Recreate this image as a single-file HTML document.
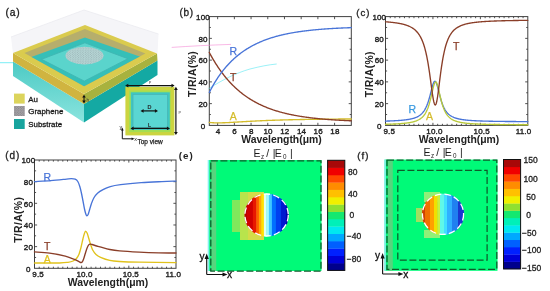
<!DOCTYPE html>
<html><head><meta charset="utf-8"><style>
html,body{margin:0;padding:0;background:#fff;width:550px;height:291px;overflow:hidden;}
svg{display:block;}
text{font-family:"Liberation Sans", sans-serif;}
svg{will-change:transform;}
</style></head><body>
<svg width="550" height="291" viewBox="0 0 550 291" font-family='"Liberation Sans", sans-serif'>
<defs>
<pattern id="hexpat" width="2.6" height="2.2" patternUnits="userSpaceOnUse"><circle cx="0.65" cy="0.55" r="0.5" fill="#90a8aa"/><circle cx="1.95" cy="1.65" r="0.5" fill="#90a8aa"/></pattern>
<pattern id="hexpat2" width="2.6" height="2.4" patternUnits="userSpaceOnUse"><circle cx="0.65" cy="0.6" r="0.6" fill="#7a7a7e"/><circle cx="1.95" cy="1.8" r="0.6" fill="#7a7a7e"/></pattern>
</defs>
<rect width="550" height="291" fill="#fff"/>
<path d="M11.00,37.00 L84.00,10.00 L158.50,34.00 L157.50,54.00 L85.00,26.00 L13.00,54.00 Z" fill="#f5f5f8"/>
<path d="M11,37 L84,10 L158.5,34" fill="none" stroke="#ebebf0" stroke-width="0.8"/>
<linearGradient id="subL" x1="0" y1="0" x2="0" y2="1"><stop offset="0" stop-color="#4ccac4"/><stop offset="1" stop-color="#8ae4de"/></linearGradient>
<path d="M13.00,61.50 L84.00,104.00 L84.00,122.50 L13.00,76.00 Z" fill="url(#subL)"/>
<path d="M84.00,104.00 L157.50,60.50 L157.50,75.00 L84.00,122.50 Z" fill="#14a9a3"/>
<path d="M13.00,53.00 L84.00,94.00 L84.00,104.00 L13.00,61.50 Z" fill="#d0b440"/>
<path d="M84.00,94.00 L157.00,53.50 L157.50,60.50 L84.00,104.00 Z" fill="#a8b23e"/>
<path d="M85.00,25.00 L13.00,53.00 L84.00,94.00 L157.00,53.50 Z" fill="#dacb4e"/>
<clipPath id="holeclip"><path d="M84.94,28.92 L24.40,53.04 L84.11,86.31 L145.36,53.46 Z"/></clipPath>
<path d="M84.94,28.92 L24.40,53.04 L84.11,86.31 L145.36,53.46 Z" fill="#b6ae6c"/>
<g clip-path="url(#holeclip)">
<path d="M84.95,37.46 L24.41,59.42 L84.13,92.43 L145.37,58.58 Z" fill="#36bfb8"/>
<path d="M84.87,42.79 L41.56,59.30 L84.30,81.13 L127.96,58.70 Z" fill="#5ad4cc" stroke="#3fb6b2" stroke-width="0.9"/>
</g>
<ellipse cx="84.5" cy="55.6" rx="19" ry="8.8" fill="#b8d8d8"/>
<ellipse cx="84.5" cy="55.6" rx="19" ry="8.8" fill="url(#hexpat)"/>
<path d="M84,96 V102" stroke="#111" stroke-width="1"/>
<path d="M82.2,97.6 L84,94.8 L85.8,97.6 Z M82.2,100.6 L84,103.4 L85.8,100.6 Z" fill="#111"/>
<text x="86.5" y="101.5" font-size="4.5" fill="#333">h</text>
<rect x="14" y="93.6" width="10.7" height="10" fill="#dcd45c"/>
<rect x="14" y="106" width="10.7" height="10" fill="#aaa6aa"/>
<rect x="14" y="106" width="10.7" height="10" fill="url(#hexpat2)"/>
<rect x="14" y="119" width="10.7" height="10" fill="#18a49e"/>
<text x="28.3" y="101.7" font-size="7.9" fill="#1a1a1a" stroke="#1a1a1a" stroke-width="0.3">Au</text>
<text x="28.3" y="114.2" font-size="7.9" fill="#1a1a1a" stroke="#1a1a1a" stroke-width="0.3">Graphene</text>
<text x="28.3" y="127.2" font-size="7.9" fill="#1a1a1a" stroke="#1a1a1a" stroke-width="0.3">Substrate</text>
<rect x="125.4" y="86.8" width="49" height="48.6" fill="#ccd440"/>
<rect x="129" y="90.5" width="41.8" height="41.6" fill="#a4de52"/>
<rect x="130.8" y="92.3" width="39" height="37.6" fill="#3ec6c2"/>
<rect x="133" y="94.5" width="34.5" height="33" fill="#5ad6d2" stroke="#48b6b6" stroke-width="0.8"/>
<path d="M127.80,85.60 H172.00" stroke="#111" stroke-width="1.20"/>
<path d="M125.20,85.60 L128.30,83.70 L128.30,87.50 Z M174.60,85.60 L171.50,83.70 L171.50,87.50 Z" fill="#111"/>
<path d="M175.90,89.40 V132.40" stroke="#111" stroke-width="1.20"/>
<path d="M175.90,86.80 L174.00,89.90 L177.80,89.90 Z M175.90,135.00 L174.00,131.90 L177.80,131.90 Z" fill="#111"/>
<path d="M143.10,110.90 H155.40" stroke="#111" stroke-width="1.20"/>
<path d="M140.50,110.90 L143.60,109.00 L143.60,112.80 Z M158.00,110.90 L154.90,109.00 L154.90,112.80 Z" fill="#111"/>
<path d="M133.10,128.40 H167.40" stroke="#111" stroke-width="1.20"/>
<path d="M130.50,128.40 L133.60,126.50 L133.60,130.30 Z M170.00,128.40 L166.90,126.50 L166.90,130.30 Z" fill="#111"/>
<text x="150" y="84" font-size="3.8" fill="#444" text-anchor="middle">P</text>
<text x="178.6" y="113.5" font-size="3.8" fill="#444">P</text>
<text x="149.5" y="108.8" font-size="5.4" fill="#222" stroke="#222" stroke-width="0.2" text-anchor="middle">D</text>
<text x="149.5" y="126.9" font-size="5.4" fill="#222" stroke="#222" stroke-width="0.2" text-anchor="middle">L</text>
<path d="M122.3,138.8 V130 M122.3,138.8 H132" stroke="#111" stroke-width="1" fill="none"/>
<path d="M120.9,130.5 L122.3,127.6 L123.7,130.5 Z M131.6,137.4 L134.4,138.8 L131.6,140.2 Z" fill="#111"/>
<text x="119.4" y="129.0" font-size="5.4" fill="#222">y</text>
<text x="134.3" y="141.2" font-size="5.4" fill="#222">x</text>
<text x="137.5" y="143.9" font-size="6.5" fill="#222" stroke="#222" stroke-width="0.25">Top view</text>
<text x="5.5" y="16.0" font-size="10.3" letter-spacing="0.8" fill="#1a1a1a" stroke="#1a1a1a" stroke-width="0.3">(a)</text>
<rect x="209.30" y="16.60" width="142.00" height="108.80" fill="none" stroke="#404040" stroke-width="1"/>
<path d="M217.65,125.40v-2.60 M217.65,16.60v2.60 M234.36,125.40v-2.60 M234.36,16.60v2.60 M251.06,125.40v-2.60 M251.06,16.60v2.60 M267.77,125.40v-2.60 M267.77,16.60v2.60 M284.48,125.40v-2.60 M284.48,16.60v2.60 M301.18,125.40v-2.60 M301.18,16.60v2.60 M317.89,125.40v-2.60 M317.89,16.60v2.60 M334.59,125.40v-2.60 M334.59,16.60v2.60 M209.30,103.64h2.60 M351.30,103.64h-2.60 M209.30,81.88h2.60 M351.30,81.88h-2.60 M209.30,60.12h2.60 M351.30,60.12h-2.60 M209.30,38.36h2.60 M351.30,38.36h-2.60 M209.30,114.52h1.60 M351.30,114.52h-1.60 M209.30,92.76h1.60 M351.30,92.76h-1.60 M209.30,71.00h1.60 M351.30,71.00h-1.60 M209.30,49.24h1.60 M351.30,49.24h-1.60 M209.30,27.48h1.60 M351.30,27.48h-1.60 " stroke="#404040" stroke-width="0.9" fill="none"/>
<path d="M171.7,47.4 C190,46.2 210,45 231,44.4" fill="none" stroke="#f58ad6" stroke-width="1" opacity="0.6"/>
<path d="M208.6,88.8 C222,80 236,73 250,69 C260,66.5 268,64.8 276.7,64" fill="none" stroke="#5ae8f2" stroke-width="1" opacity="0.6"/>
<path d="M0,62.7 H13" fill="none" stroke="#5ae8f2" stroke-width="1" opacity="0.8"/>
<path d="M209.30,122.43 L210.01,122.51 L210.72,122.58 L211.43,122.65 L212.14,122.70 L212.85,122.75 L213.56,122.78 L214.27,122.81 L214.98,122.84 L215.69,122.86 L216.40,122.87 L217.11,122.88 L217.82,122.88 L218.53,122.88 L219.24,122.87 L219.95,122.86 L220.66,122.85 L221.37,122.83 L222.08,122.82 L222.79,122.79 L223.50,122.77 L224.21,122.74 L224.92,122.72 L225.63,122.69 L226.34,122.65 L227.05,122.62 L227.76,122.59 L228.47,122.55 L229.18,122.51 L229.89,122.48 L230.60,122.44 L231.31,122.40 L232.02,122.36 L232.73,122.32 L233.44,122.28 L234.15,122.24 L234.86,122.19 L235.57,122.15 L236.28,122.11 L236.99,122.07 L237.70,122.02 L238.41,121.98 L239.12,121.94 L239.83,121.90 L240.54,121.85 L241.25,121.81 L241.96,121.77 L242.67,121.73 L243.38,121.69 L244.09,121.64 L244.80,121.60 L245.51,121.56 L246.22,121.52 L246.93,121.48 L247.64,121.44 L248.35,121.40 L249.06,121.36 L249.77,121.32 L250.48,121.28 L251.19,121.24 L251.90,121.21 L252.61,121.17 L253.32,121.13 L254.03,121.10 L254.74,121.06 L255.45,121.02 L256.16,120.99 L256.87,120.95 L257.58,120.92 L258.29,120.88 L259.00,120.85 L259.71,120.82 L260.42,120.78 L261.13,120.75 L261.84,120.72 L262.55,120.69 L263.26,120.66 L263.97,120.63 L264.68,120.60 L265.39,120.57 L266.10,120.54 L266.81,120.51 L267.52,120.48 L268.23,120.45 L268.94,120.42 L269.65,120.40 L270.36,120.37 L271.07,120.34 L271.78,120.32 L272.49,120.29 L273.20,120.27 L273.91,120.24 L274.62,120.22 L275.33,120.19 L276.04,120.17 L276.75,120.14 L277.46,120.12 L278.17,120.10 L278.88,120.07 L279.59,120.05 L280.30,120.03 L281.01,120.01 L281.72,119.99 L282.43,119.97 L283.14,119.95 L283.85,119.93 L284.56,119.91 L285.27,119.89 L285.98,119.87 L286.69,119.85 L287.40,119.83 L288.11,119.81 L288.82,119.79 L289.53,119.78 L290.24,119.76 L290.95,119.74 L291.66,119.72 L292.37,119.71 L293.08,119.69 L293.79,119.67 L294.50,119.66 L295.21,119.64 L295.92,119.63 L296.63,119.61 L297.34,119.60 L298.05,119.58 L298.76,119.57 L299.47,119.55 L300.18,119.54 L300.89,119.53 L301.60,119.51 L302.31,119.50 L303.02,119.49 L303.73,119.47 L304.44,119.46 L305.15,119.45 L305.86,119.44 L306.57,119.42 L307.28,119.41 L307.99,119.40 L308.70,119.39 L309.41,119.38 L310.12,119.37 L310.83,119.36 L311.54,119.35 L312.25,119.33 L312.96,119.32 L313.67,119.31 L314.38,119.30 L315.09,119.29 L315.80,119.28 L316.51,119.27 L317.22,119.27 L317.93,119.26 L318.64,119.25 L319.35,119.24 L320.06,119.23 L320.77,119.22 L321.48,119.21 L322.19,119.20 L322.90,119.20 L323.61,119.19 L324.32,119.18 L325.03,119.17 L325.74,119.16 L326.45,119.16 L327.16,119.15 L327.87,119.14 L328.58,119.13 L329.29,119.13 L330.00,119.12 L330.71,119.11 L331.42,119.11 L332.13,119.10 L332.84,119.09 L333.55,119.09 L334.26,119.08 L334.97,119.07 L335.68,119.07 L336.39,119.06 L337.10,119.06 L337.81,119.05 L338.52,119.04 L339.23,119.04 L339.94,119.03 L340.65,119.03 L341.36,119.02 L342.07,119.02 L342.78,119.01 L343.49,119.01 L344.20,119.00 L344.91,119.00 L345.62,118.99 L346.33,118.99 L347.04,118.98 L347.75,118.98 L348.46,118.97 L349.17,118.97 L349.88,118.96 L350.59,118.96 L351.30,118.96" fill="none" stroke="#d4bc2c" stroke-width="1.35" stroke-linejoin="round" stroke-linecap="round"/>
<path d="M209.30,52.45 L210.01,53.78 L210.72,55.08 L211.43,56.36 L212.14,57.61 L212.85,58.83 L213.56,60.04 L214.27,61.22 L214.98,62.38 L215.69,63.52 L216.40,64.63 L217.11,65.73 L217.82,66.80 L218.53,67.85 L219.24,68.89 L219.95,69.90 L220.66,70.89 L221.37,71.87 L222.08,72.83 L222.79,73.77 L223.50,74.69 L224.21,75.59 L224.92,76.48 L225.63,77.35 L226.34,78.20 L227.05,79.04 L227.76,79.86 L228.47,80.66 L229.18,81.45 L229.89,82.23 L230.60,82.99 L231.31,83.73 L232.02,84.47 L232.73,85.18 L233.44,85.89 L234.15,86.58 L234.86,87.26 L235.57,87.92 L236.28,88.58 L236.99,89.22 L237.70,89.84 L238.41,90.46 L239.12,91.06 L239.83,91.66 L240.54,92.24 L241.25,92.81 L241.96,93.37 L242.67,93.92 L243.38,94.46 L244.09,94.99 L244.80,95.50 L245.51,96.01 L246.22,96.51 L246.93,97.00 L247.64,97.48 L248.35,97.95 L249.06,98.42 L249.77,98.87 L250.48,99.31 L251.19,99.75 L251.90,100.18 L252.61,100.60 L253.32,101.01 L254.03,101.41 L254.74,101.81 L255.45,102.20 L256.16,102.58 L256.87,102.96 L257.58,103.32 L258.29,103.68 L259.00,104.04 L259.71,104.38 L260.42,104.72 L261.13,105.06 L261.84,105.39 L262.55,105.71 L263.26,106.02 L263.97,106.33 L264.68,106.63 L265.39,106.93 L266.10,107.22 L266.81,107.51 L267.52,107.79 L268.23,108.07 L268.94,108.34 L269.65,108.60 L270.36,108.86 L271.07,109.12 L271.78,109.37 L272.49,109.61 L273.20,109.86 L273.91,110.09 L274.62,110.32 L275.33,110.55 L276.04,110.77 L276.75,110.99 L277.46,111.21 L278.17,111.42 L278.88,111.63 L279.59,111.83 L280.30,112.03 L281.01,112.22 L281.72,112.42 L282.43,112.60 L283.14,112.79 L283.85,112.97 L284.56,113.15 L285.27,113.32 L285.98,113.49 L286.69,113.66 L287.40,113.82 L288.11,113.98 L288.82,114.14 L289.53,114.30 L290.24,114.45 L290.95,114.60 L291.66,114.74 L292.37,114.89 L293.08,115.03 L293.79,115.17 L294.50,115.30 L295.21,115.44 L295.92,115.57 L296.63,115.70 L297.34,115.82 L298.05,115.94 L298.76,116.07 L299.47,116.18 L300.18,116.30 L300.89,116.41 L301.60,116.53 L302.31,116.64 L303.02,116.74 L303.73,116.85 L304.44,116.95 L305.15,117.06 L305.86,117.16 L306.57,117.25 L307.28,117.35 L307.99,117.44 L308.70,117.54 L309.41,117.63 L310.12,117.72 L310.83,117.80 L311.54,117.89 L312.25,117.97 L312.96,118.06 L313.67,118.14 L314.38,118.22 L315.09,118.29 L315.80,118.37 L316.51,118.45 L317.22,118.52 L317.93,118.59 L318.64,118.66 L319.35,118.73 L320.06,118.80 L320.77,118.87 L321.48,118.93 L322.19,119.00 L322.90,119.06 L323.61,119.12 L324.32,119.18 L325.03,119.24 L325.74,119.30 L326.45,119.36 L327.16,119.41 L327.87,119.47 L328.58,119.52 L329.29,119.58 L330.00,119.63 L330.71,119.68 L331.42,119.73 L332.13,119.78 L332.84,119.83 L333.55,119.87 L334.26,119.92 L334.97,119.97 L335.68,120.01 L336.39,120.05 L337.10,120.10 L337.81,120.14 L338.52,120.18 L339.23,120.22 L339.94,120.26 L340.65,120.30 L341.36,120.34 L342.07,120.38 L342.78,120.41 L343.49,120.45 L344.20,120.49 L344.91,120.52 L345.62,120.55 L346.33,120.59 L347.04,120.62 L347.75,120.65 L348.46,120.68 L349.17,120.72 L349.88,120.75 L350.59,120.78 L351.30,120.81" fill="none" stroke="#8a3e28" stroke-width="1.35" stroke-linejoin="round" stroke-linecap="round"/>
<path d="M209.30,92.51 L210.01,91.11 L210.72,89.74 L211.43,88.40 L212.14,87.09 L212.85,85.82 L213.56,84.58 L214.27,83.37 L214.98,82.18 L215.69,81.03 L216.40,79.90 L217.11,78.80 L217.82,77.72 L218.53,76.67 L219.24,75.64 L219.95,74.64 L220.66,73.66 L221.37,72.70 L222.08,71.76 L222.79,70.84 L223.50,69.94 L224.21,69.07 L224.92,68.21 L225.63,67.37 L226.34,66.55 L227.05,65.74 L227.76,64.96 L228.47,64.19 L229.18,63.43 L229.89,62.70 L230.60,61.97 L231.31,61.27 L232.02,60.58 L232.73,59.90 L233.44,59.23 L234.15,58.58 L234.86,57.95 L235.57,57.33 L236.28,56.72 L236.99,56.12 L237.70,55.53 L238.41,54.96 L239.12,54.40 L239.83,53.85 L240.54,53.31 L241.25,52.78 L241.96,52.26 L242.67,51.75 L243.38,51.26 L244.09,50.77 L244.80,50.29 L245.51,49.83 L246.22,49.37 L246.93,48.92 L247.64,48.48 L248.35,48.05 L249.06,47.62 L249.77,47.21 L250.48,46.80 L251.19,46.41 L251.90,46.02 L252.61,45.63 L253.32,45.26 L254.03,44.89 L254.74,44.53 L255.45,44.18 L256.16,43.83 L256.87,43.49 L257.58,43.16 L258.29,42.83 L259.00,42.51 L259.71,42.20 L260.42,41.89 L261.13,41.59 L261.84,41.29 L262.55,41.00 L263.26,40.72 L263.97,40.44 L264.68,40.17 L265.39,39.90 L266.10,39.64 L266.81,39.38 L267.52,39.13 L268.23,38.88 L268.94,38.64 L269.65,38.40 L270.36,38.17 L271.07,37.94 L271.78,37.71 L272.49,37.49 L273.20,37.28 L273.91,37.07 L274.62,36.86 L275.33,36.66 L276.04,36.46 L276.75,36.26 L277.46,36.07 L278.17,35.88 L278.88,35.70 L279.59,35.52 L280.30,35.34 L281.01,35.17 L281.72,35.00 L282.43,34.83 L283.14,34.67 L283.85,34.51 L284.56,34.35 L285.27,34.19 L285.98,34.04 L286.69,33.89 L287.40,33.75 L288.11,33.60 L288.82,33.46 L289.53,33.33 L290.24,33.19 L290.95,33.06 L291.66,32.93 L292.37,32.80 L293.08,32.68 L293.79,32.56 L294.50,32.44 L295.21,32.32 L295.92,32.20 L296.63,32.09 L297.34,31.98 L298.05,31.87 L298.76,31.77 L299.47,31.66 L300.18,31.56 L300.89,31.46 L301.60,31.36 L302.31,31.26 L303.02,31.17 L303.73,31.08 L304.44,30.98 L305.15,30.90 L305.86,30.81 L306.57,30.72 L307.28,30.64 L307.99,30.55 L308.70,30.47 L309.41,30.39 L310.12,30.32 L310.83,30.24 L311.54,30.17 L312.25,30.09 L312.96,30.02 L313.67,29.95 L314.38,29.88 L315.09,29.81 L315.80,29.74 L316.51,29.68 L317.22,29.62 L317.93,29.55 L318.64,29.49 L319.35,29.43 L320.06,29.37 L320.77,29.31 L321.48,29.26 L322.19,29.20 L322.90,29.15 L323.61,29.09 L324.32,29.04 L325.03,28.99 L325.74,28.94 L326.45,28.89 L327.16,28.84 L327.87,28.79 L328.58,28.74 L329.29,28.70 L330.00,28.65 L330.71,28.61 L331.42,28.56 L332.13,28.52 L332.84,28.48 L333.55,28.44 L334.26,28.40 L334.97,28.36 L335.68,28.32 L336.39,28.28 L337.10,28.25 L337.81,28.21 L338.52,28.17 L339.23,28.14 L339.94,28.11 L340.65,28.07 L341.36,28.04 L342.07,28.01 L342.78,27.97 L343.49,27.94 L344.20,27.91 L344.91,27.88 L345.62,27.85 L346.33,27.82 L347.04,27.80 L347.75,27.77 L348.46,27.74 L349.17,27.72 L349.88,27.69 L350.59,27.66 L351.30,27.64" fill="none" stroke="#4874d8" stroke-width="1.35" stroke-linejoin="round" stroke-linecap="round"/>
<text x="203.00" y="128.70" font-size="8.00" text-anchor="middle" fill="#222" font-weight="normal" stroke="#222" stroke-width="0.38" letter-spacing="0.15">0</text>
<text x="203.00" y="106.94" font-size="8.00" text-anchor="middle" fill="#222" font-weight="normal" stroke="#222" stroke-width="0.38" letter-spacing="0.15">20</text>
<text x="203.00" y="85.18" font-size="8.00" text-anchor="middle" fill="#222" font-weight="normal" stroke="#222" stroke-width="0.38" letter-spacing="0.15">40</text>
<text x="203.00" y="63.42" font-size="8.00" text-anchor="middle" fill="#222" font-weight="normal" stroke="#222" stroke-width="0.38" letter-spacing="0.15">60</text>
<text x="203.00" y="41.66" font-size="8.00" text-anchor="middle" fill="#222" font-weight="normal" stroke="#222" stroke-width="0.38" letter-spacing="0.15">80</text>
<text x="203.00" y="19.90" font-size="8.00" text-anchor="middle" fill="#222" font-weight="normal" stroke="#222" stroke-width="0.38" letter-spacing="0.15">100</text>
<text x="217.95" y="134.20" font-size="8.00" text-anchor="middle" fill="#222" font-weight="normal" stroke="#222" stroke-width="0.38" letter-spacing="0.15">4</text>
<text x="234.66" y="134.20" font-size="8.00" text-anchor="middle" fill="#222" font-weight="normal" stroke="#222" stroke-width="0.38" letter-spacing="0.15">6</text>
<text x="251.36" y="134.20" font-size="8.00" text-anchor="middle" fill="#222" font-weight="normal" stroke="#222" stroke-width="0.38" letter-spacing="0.15">8</text>
<text x="268.07" y="134.20" font-size="8.00" text-anchor="middle" fill="#222" font-weight="normal" stroke="#222" stroke-width="0.38" letter-spacing="0.15">10</text>
<text x="284.78" y="134.20" font-size="8.00" text-anchor="middle" fill="#222" font-weight="normal" stroke="#222" stroke-width="0.38" letter-spacing="0.15">12</text>
<text x="301.48" y="134.20" font-size="8.00" text-anchor="middle" fill="#222" font-weight="normal" stroke="#222" stroke-width="0.38" letter-spacing="0.15">14</text>
<text x="318.19" y="134.20" font-size="8.00" text-anchor="middle" fill="#222" font-weight="normal" stroke="#222" stroke-width="0.38" letter-spacing="0.15">16</text>
<text x="334.89" y="134.20" font-size="8.00" text-anchor="middle" fill="#222" font-weight="normal" stroke="#222" stroke-width="0.38" letter-spacing="0.15">18</text>
<text x="281.50" y="143.00" font-size="10.40" text-anchor="middle" fill="#222" font-weight="bold" >Wavelength(μm)</text>
<text x="196.40" y="73.90" font-size="10.40" text-anchor="middle" fill="#222" font-weight="bold" letter-spacing="0.35" transform="rotate(-90 196.4 73.9)">T/R/A(%)</text>
<text x="233.30" y="54.60" font-size="10.50" text-anchor="middle" fill="#4874d8" font-weight="normal" stroke="#4874d8" stroke-width="0.25" >R</text>
<text x="233.30" y="80.90" font-size="10.50" text-anchor="middle" fill="#8a3e28" font-weight="normal" stroke="#8a3e28" stroke-width="0.25" >T</text>
<text x="233.30" y="119.70" font-size="10.50" text-anchor="middle" fill="#d4bc2c" font-weight="normal" stroke="#d4bc2c" stroke-width="0.25" >A</text>
<text x="179.50" y="15.60" font-size="10.00" text-anchor="start" fill="#222" font-weight="normal" stroke="#222" stroke-width="0.30" letter-spacing="0.7">(b)</text>
<rect x="385.50" y="16.60" width="142.30" height="108.80" fill="none" stroke="#404040" stroke-width="1"/>
<path d="M432.93,125.40v-2.60 M432.93,16.60v2.60 M480.37,125.40v-2.60 M480.37,16.60v2.60 M390.24,125.40v-1.60 M390.24,16.60v1.60 M394.99,125.40v-1.60 M394.99,16.60v1.60 M399.73,125.40v-1.60 M399.73,16.60v1.60 M404.47,125.40v-1.60 M404.47,16.60v1.60 M409.22,125.40v-1.60 M409.22,16.60v1.60 M413.96,125.40v-1.60 M413.96,16.60v1.60 M418.70,125.40v-1.60 M418.70,16.60v1.60 M423.45,125.40v-1.60 M423.45,16.60v1.60 M428.19,125.40v-1.60 M428.19,16.60v1.60 M437.68,125.40v-1.60 M437.68,16.60v1.60 M442.42,125.40v-1.60 M442.42,16.60v1.60 M447.16,125.40v-1.60 M447.16,16.60v1.60 M451.91,125.40v-1.60 M451.91,16.60v1.60 M456.65,125.40v-1.60 M456.65,16.60v1.60 M461.39,125.40v-1.60 M461.39,16.60v1.60 M466.14,125.40v-1.60 M466.14,16.60v1.60 M470.88,125.40v-1.60 M470.88,16.60v1.60 M475.62,125.40v-1.60 M475.62,16.60v1.60 M485.11,125.40v-1.60 M485.11,16.60v1.60 M489.85,125.40v-1.60 M489.85,16.60v1.60 M494.60,125.40v-1.60 M494.60,16.60v1.60 M499.34,125.40v-1.60 M499.34,16.60v1.60 M504.08,125.40v-1.60 M504.08,16.60v1.60 M508.83,125.40v-1.60 M508.83,16.60v1.60 M513.57,125.40v-1.60 M513.57,16.60v1.60 M518.31,125.40v-1.60 M518.31,16.60v1.60 M523.06,125.40v-1.60 M523.06,16.60v1.60 M385.50,103.64h2.60 M527.80,103.64h-2.60 M385.50,81.88h2.60 M527.80,81.88h-2.60 M385.50,60.12h2.60 M527.80,60.12h-2.60 M385.50,38.36h2.60 M527.80,38.36h-2.60 M385.50,114.52h1.60 M527.80,114.52h-1.60 M385.50,92.76h1.60 M527.80,92.76h-1.60 M385.50,71.00h1.60 M527.80,71.00h-1.60 M385.50,49.24h1.60 M527.80,49.24h-1.60 M385.50,27.48h1.60 M527.80,27.48h-1.60 " stroke="#404040" stroke-width="0.9" fill="none"/>
<path d="M385.50,121.10 L385.97,121.08 L386.45,121.07 L386.92,121.06 L387.40,121.04 L387.87,121.03 L388.35,121.01 L388.82,120.99 L389.29,120.98 L389.77,120.96 L390.24,120.94 L390.72,120.92 L391.19,120.90 L391.67,120.89 L392.14,120.87 L392.62,120.84 L393.09,120.82 L393.56,120.80 L394.04,120.78 L394.51,120.75 L394.99,120.73 L395.46,120.70 L395.94,120.68 L396.41,120.65 L396.88,120.62 L397.36,120.59 L397.83,120.56 L398.31,120.53 L398.78,120.50 L399.26,120.46 L399.73,120.43 L400.20,120.39 L400.68,120.35 L401.15,120.31 L401.63,120.27 L402.10,120.23 L402.58,120.19 L403.05,120.14 L403.52,120.09 L404.00,120.04 L404.47,119.99 L404.95,119.93 L405.42,119.87 L405.90,119.81 L406.37,119.75 L406.84,119.68 L407.32,119.61 L407.79,119.54 L408.27,119.46 L408.74,119.38 L409.22,119.30 L409.69,119.21 L410.17,119.11 L410.64,119.01 L411.11,118.91 L411.59,118.80 L412.06,118.68 L412.54,118.56 L413.01,118.43 L413.49,118.29 L413.96,118.14 L414.43,117.99 L414.91,117.82 L415.38,117.64 L415.86,117.46 L416.33,117.26 L416.81,117.04 L417.28,116.82 L417.75,116.57 L418.23,116.31 L418.70,116.03 L419.18,115.73 L419.65,115.41 L420.13,115.06 L420.60,114.68 L421.07,114.28 L421.55,113.84 L422.02,113.37 L422.50,112.85 L422.97,112.30 L423.45,111.69 L423.92,111.04 L424.40,110.32 L424.87,109.55 L425.34,108.70 L425.82,107.78 L426.29,106.78 L426.77,105.70 L427.24,104.52 L427.72,103.24 L428.19,101.85 L428.66,100.37 L429.14,98.78 L429.61,97.09 L430.09,95.31 L430.56,93.47 L431.04,91.59 L431.51,89.70 L431.98,87.85 L432.46,86.11 L432.93,84.54 L433.41,83.20 L433.88,82.17 L434.36,81.50 L434.83,81.23 L435.30,81.38 L435.78,81.94 L436.25,82.87 L436.73,84.12 L437.20,85.63 L437.68,87.33 L438.15,89.15 L438.63,91.03 L439.10,92.92 L439.57,94.78 L440.05,96.58 L440.52,98.29 L441.00,99.91 L441.47,101.43 L441.95,102.84 L442.42,104.15 L442.89,105.36 L443.37,106.47 L443.84,107.50 L444.32,108.44 L444.79,109.31 L445.27,110.10 L445.74,110.83 L446.21,111.51 L446.69,112.13 L447.16,112.70 L447.64,113.22 L448.11,113.70 L448.59,114.15 L449.06,114.57 L449.53,114.95 L450.01,115.31 L450.48,115.64 L450.96,115.94 L451.43,116.23 L451.91,116.50 L452.38,116.75 L452.86,116.98 L453.33,117.20 L453.80,117.40 L454.28,117.59 L454.75,117.77 L455.23,117.94 L455.70,118.10 L456.18,118.25 L456.65,118.39 L457.12,118.52 L457.60,118.65 L458.07,118.76 L458.55,118.88 L459.02,118.98 L459.50,119.08 L459.97,119.18 L460.44,119.27 L460.92,119.36 L461.39,119.44 L461.87,119.52 L462.34,119.59 L462.82,119.66 L463.29,119.73 L463.76,119.79 L464.24,119.85 L464.71,119.91 L465.19,119.97 L465.66,120.02 L466.14,120.08 L466.61,120.12 L467.09,120.17 L467.56,120.22 L468.03,120.26 L468.51,120.30 L468.98,120.34 L469.46,120.38 L469.93,120.42 L470.41,120.45 L470.88,120.49 L471.35,120.52 L471.83,120.55 L472.30,120.58 L472.78,120.61 L473.25,120.64 L473.73,120.67 L474.20,120.70 L474.67,120.72 L475.15,120.75 L475.62,120.77 L476.10,120.79 L476.57,120.82 L477.05,120.84 L477.52,120.86 L478.00,120.88 L478.47,120.90 L478.94,120.92 L479.42,120.94 L479.89,120.95 L480.37,120.97 L480.84,120.99 L481.32,121.01 L481.79,121.02 L482.26,121.04 L482.74,121.05 L483.21,121.07 L483.69,121.08 L484.16,121.09 L484.64,121.11 L485.11,121.12 L485.58,121.13 L486.06,121.15 L486.53,121.16 L487.01,121.17 L487.48,121.18 L487.96,121.19 L488.43,121.20 L488.90,121.21 L489.38,121.22 L489.85,121.23 L490.33,121.24 L490.80,121.25 L491.28,121.26 L491.75,121.27 L492.22,121.28 L492.70,121.29 L493.17,121.30 L493.65,121.30 L494.12,121.31 L494.60,121.32 L495.07,121.33 L495.55,121.33 L496.02,121.34 L496.49,121.35 L496.97,121.36 L497.44,121.36 L497.92,121.37 L498.39,121.38 L498.87,121.38 L499.34,121.39 L499.81,121.39 L500.29,121.40 L500.76,121.41 L501.24,121.41 L501.71,121.42 L502.19,121.42 L502.66,121.43 L503.13,121.43 L503.61,121.44 L504.08,121.44 L504.56,121.45 L505.03,121.45 L505.51,121.46 L505.98,121.46 L506.45,121.47 L506.93,121.47 L507.40,121.48 L507.88,121.48 L508.35,121.48 L508.83,121.49 L509.30,121.49 L509.78,121.50 L510.25,121.50 L510.72,121.50 L511.20,121.51 L511.67,121.51 L512.15,121.52 L512.62,121.52 L513.10,121.52 L513.57,121.53 L514.04,121.53 L514.52,121.53 L514.99,121.54 L515.47,121.54 L515.94,121.54 L516.42,121.55 L516.89,121.55 L517.36,121.55 L517.84,121.55 L518.31,121.56 L518.79,121.56 L519.26,121.56 L519.74,121.57 L520.21,121.57 L520.68,121.57 L521.16,121.57 L521.63,121.58 L522.11,121.58 L522.58,121.58 L523.06,121.58 L523.53,121.59 L524.01,121.59 L524.48,121.59 L524.95,121.59 L525.43,121.60 L525.90,121.60 L526.38,121.60 L526.85,121.60 L527.33,121.60 L527.80,121.61" fill="none" stroke="#4874d8" stroke-width="1.35" stroke-linejoin="round" stroke-linecap="round"/>
<path d="M385.50,124.30 L385.97,124.28 L386.45,124.27 L386.92,124.26 L387.40,124.24 L387.87,124.23 L388.35,124.22 L388.82,124.20 L389.29,124.19 L389.77,124.17 L390.24,124.15 L390.72,124.14 L391.19,124.12 L391.67,124.10 L392.14,124.08 L392.62,124.06 L393.09,124.04 L393.56,124.02 L394.04,124.00 L394.51,123.98 L394.99,123.96 L395.46,123.93 L395.94,123.91 L396.41,123.88 L396.88,123.86 L397.36,123.83 L397.83,123.80 L398.31,123.78 L398.78,123.75 L399.26,123.71 L399.73,123.68 L400.20,123.65 L400.68,123.61 L401.15,123.58 L401.63,123.54 L402.10,123.50 L402.58,123.46 L403.05,123.42 L403.52,123.37 L404.00,123.33 L404.47,123.28 L404.95,123.23 L405.42,123.18 L405.90,123.12 L406.37,123.06 L406.84,123.00 L407.32,122.94 L407.79,122.88 L408.27,122.81 L408.74,122.73 L409.22,122.66 L409.69,122.58 L410.17,122.49 L410.64,122.40 L411.11,122.31 L411.59,122.21 L412.06,122.11 L412.54,122.00 L413.01,121.88 L413.49,121.76 L413.96,121.63 L414.43,121.49 L414.91,121.34 L415.38,121.19 L415.86,121.02 L416.33,120.84 L416.81,120.65 L417.28,120.45 L417.75,120.24 L418.23,120.01 L418.70,119.76 L419.18,119.50 L419.65,119.21 L420.13,118.91 L420.60,118.58 L421.07,118.22 L421.55,117.84 L422.02,117.42 L422.50,116.97 L422.97,116.49 L423.45,115.96 L423.92,115.38 L424.40,114.75 L424.87,114.07 L425.34,113.33 L425.82,112.51 L426.29,111.62 L426.77,110.65 L427.24,109.59 L427.72,108.43 L428.19,107.17 L428.66,105.79 L429.14,104.30 L429.61,102.68 L430.09,100.94 L430.56,99.09 L431.04,97.13 L431.51,95.09 L431.98,93.00 L432.46,90.90 L432.93,88.85 L433.41,86.92 L433.88,85.19 L434.36,83.75 L434.83,82.69 L435.30,82.05 L435.78,81.89 L436.25,82.21 L436.73,83.00 L437.20,84.20 L437.68,85.74 L438.15,87.54 L438.63,89.52 L439.10,91.60 L439.57,93.70 L440.05,95.78 L440.52,97.80 L441.00,99.72 L441.47,101.54 L441.95,103.24 L442.42,104.81 L442.89,106.27 L443.37,107.60 L443.84,108.83 L444.32,109.96 L444.79,110.99 L445.27,111.93 L445.74,112.79 L446.21,113.58 L446.69,114.31 L447.16,114.97 L447.64,115.58 L448.11,116.14 L448.59,116.65 L449.06,117.13 L449.53,117.57 L450.01,117.97 L450.48,118.34 L450.96,118.69 L451.43,119.01 L451.91,119.31 L452.38,119.59 L452.86,119.84 L453.33,120.09 L453.80,120.31 L454.28,120.52 L454.75,120.72 L455.23,120.90 L455.70,121.08 L456.18,121.24 L456.65,121.39 L457.12,121.54 L457.60,121.67 L458.07,121.80 L458.55,121.92 L459.02,122.03 L459.50,122.14 L459.97,122.25 L460.44,122.34 L460.92,122.43 L461.39,122.52 L461.87,122.60 L462.34,122.68 L462.82,122.76 L463.29,122.83 L463.76,122.90 L464.24,122.96 L464.71,123.02 L465.19,123.08 L465.66,123.14 L466.14,123.19 L466.61,123.25 L467.09,123.30 L467.56,123.34 L468.03,123.39 L468.51,123.43 L468.98,123.47 L469.46,123.51 L469.93,123.55 L470.41,123.59 L470.88,123.63 L471.35,123.66 L471.83,123.69 L472.30,123.73 L472.78,123.76 L473.25,123.79 L473.73,123.81 L474.20,123.84 L474.67,123.87 L475.15,123.89 L475.62,123.92 L476.10,123.94 L476.57,123.96 L477.05,123.99 L477.52,124.01 L478.00,124.03 L478.47,124.05 L478.94,124.07 L479.42,124.09 L479.89,124.11 L480.37,124.12 L480.84,124.14 L481.32,124.16 L481.79,124.17 L482.26,124.19 L482.74,124.21 L483.21,124.22 L483.69,124.23 L484.16,124.25 L484.64,124.26 L485.11,124.28 L485.58,124.29 L486.06,124.30 L486.53,124.31 L487.01,124.32 L487.48,124.34 L487.96,124.35 L488.43,124.36 L488.90,124.37 L489.38,124.38 L489.85,124.39 L490.33,124.40 L490.80,124.41 L491.28,124.42 L491.75,124.43 L492.22,124.44 L492.70,124.44 L493.17,124.45 L493.65,124.46 L494.12,124.47 L494.60,124.48 L495.07,124.49 L495.55,124.49 L496.02,124.50 L496.49,124.51 L496.97,124.51 L497.44,124.52 L497.92,124.53 L498.39,124.53 L498.87,124.54 L499.34,124.55 L499.81,124.55 L500.29,124.56 L500.76,124.56 L501.24,124.57 L501.71,124.58 L502.19,124.58 L502.66,124.59 L503.13,124.59 L503.61,124.60 L504.08,124.60 L504.56,124.61 L505.03,124.61 L505.51,124.62 L505.98,124.62 L506.45,124.63 L506.93,124.63 L507.40,124.63 L507.88,124.64 L508.35,124.64 L508.83,124.65 L509.30,124.65 L509.78,124.66 L510.25,124.66 L510.72,124.66 L511.20,124.67 L511.67,124.67 L512.15,124.67 L512.62,124.68 L513.10,124.68 L513.57,124.68 L514.04,124.69 L514.52,124.69 L514.99,124.69 L515.47,124.70 L515.94,124.70 L516.42,124.70 L516.89,124.71 L517.36,124.71 L517.84,124.71 L518.31,124.72 L518.79,124.72 L519.26,124.72 L519.74,124.72 L520.21,124.73 L520.68,124.73 L521.16,124.73 L521.63,124.73 L522.11,124.74 L522.58,124.74 L523.06,124.74 L523.53,124.74 L524.01,124.75 L524.48,124.75 L524.95,124.75 L525.43,124.75 L525.90,124.76 L526.38,124.76 L526.85,124.76 L527.33,124.76 L527.80,124.76" fill="none" stroke="#b8c83a" stroke-width="1.35" stroke-linejoin="round" stroke-linecap="round"/>
<path d="M385.50,21.81 L385.97,21.85 L386.45,21.88 L386.92,21.92 L387.40,21.95 L387.87,21.99 L388.35,22.03 L388.82,22.07 L389.29,22.12 L389.77,22.16 L390.24,22.20 L390.72,22.25 L391.19,22.30 L391.67,22.35 L392.14,22.40 L392.62,22.45 L393.09,22.50 L393.56,22.56 L394.04,22.62 L394.51,22.68 L394.99,22.74 L395.46,22.80 L395.94,22.87 L396.41,22.94 L396.88,23.01 L397.36,23.08 L397.83,23.16 L398.31,23.24 L398.78,23.32 L399.26,23.40 L399.73,23.49 L400.20,23.58 L400.68,23.68 L401.15,23.78 L401.63,23.88 L402.10,23.99 L402.58,24.10 L403.05,24.22 L403.52,24.34 L404.00,24.46 L404.47,24.59 L404.95,24.73 L405.42,24.88 L405.90,25.03 L406.37,25.18 L406.84,25.35 L407.32,25.52 L407.79,25.70 L408.27,25.89 L408.74,26.08 L409.22,26.29 L409.69,26.51 L410.17,26.74 L410.64,26.98 L411.11,27.24 L411.59,27.50 L412.06,27.79 L412.54,28.08 L413.01,28.40 L413.49,28.73 L413.96,29.08 L414.43,29.46 L414.91,29.85 L415.38,30.27 L415.86,30.72 L416.33,31.19 L416.81,31.69 L417.28,32.23 L417.75,32.80 L418.23,33.41 L418.70,34.06 L419.18,34.75 L419.65,35.50 L420.13,36.29 L420.60,37.15 L421.07,38.07 L421.55,39.05 L422.02,40.11 L422.50,41.25 L422.97,42.48 L423.45,43.80 L423.92,45.23 L424.40,46.77 L424.87,48.43 L425.34,50.22 L425.82,52.15 L426.29,54.23 L426.77,56.46 L427.24,58.86 L427.72,61.43 L428.19,64.18 L428.66,67.10 L429.14,70.19 L429.61,73.43 L430.09,76.80 L430.56,80.28 L431.04,83.81 L431.51,87.34 L431.98,90.80 L432.46,94.09 L432.93,97.12 L433.41,99.80 L433.88,102.00 L434.36,103.66 L434.83,104.68 L435.30,105.02 L435.78,104.61 L436.25,103.42 L436.73,101.52 L437.20,99.00 L437.68,95.99 L438.15,92.61 L438.63,88.98 L439.10,85.22 L439.57,81.42 L440.05,77.67 L440.52,74.02 L441.00,70.52 L441.47,67.20 L441.95,64.07 L442.42,61.14 L442.89,58.40 L443.37,55.87 L443.84,53.52 L444.32,51.35 L444.79,49.34 L445.27,47.50 L445.74,45.79 L446.21,44.22 L446.69,42.77 L447.16,41.43 L447.64,40.20 L448.11,39.05 L448.59,38.00 L449.06,37.02 L449.53,36.11 L450.01,35.27 L450.48,34.49 L450.96,33.76 L451.43,33.08 L451.91,32.45 L452.38,31.86 L452.86,31.31 L453.33,30.79 L453.80,30.31 L454.28,29.85 L454.75,29.43 L455.23,29.03 L455.70,28.65 L456.18,28.30 L456.65,27.96 L457.12,27.65 L457.60,27.35 L458.07,27.07 L458.55,26.81 L459.02,26.55 L459.50,26.31 L459.97,26.09 L460.44,25.87 L460.92,25.67 L461.39,25.48 L461.87,25.29 L462.34,25.11 L462.82,24.95 L463.29,24.79 L463.76,24.63 L464.24,24.49 L464.71,24.35 L465.19,24.22 L465.66,24.09 L466.14,23.97 L466.61,23.85 L467.09,23.74 L467.56,23.63 L468.03,23.53 L468.51,23.43 L468.98,23.34 L469.46,23.24 L469.93,23.16 L470.41,23.07 L470.88,22.99 L471.35,22.91 L471.83,22.84 L472.30,22.77 L472.78,22.70 L473.25,22.63 L473.73,22.56 L474.20,22.50 L474.67,22.44 L475.15,22.38 L475.62,22.32 L476.10,22.27 L476.57,22.22 L477.05,22.17 L477.52,22.12 L478.00,22.07 L478.47,22.02 L478.94,21.98 L479.42,21.93 L479.89,21.89 L480.37,21.85 L480.84,21.81 L481.32,21.77 L481.79,21.73 L482.26,21.70 L482.74,21.66 L483.21,21.63 L483.69,21.59 L484.16,21.56 L484.64,21.53 L485.11,21.50 L485.58,21.47 L486.06,21.44 L486.53,21.41 L487.01,21.38 L487.48,21.36 L487.96,21.33 L488.43,21.31 L488.90,21.28 L489.38,21.26 L489.85,21.23 L490.33,21.21 L490.80,21.19 L491.28,21.17 L491.75,21.14 L492.22,21.12 L492.70,21.10 L493.17,21.08 L493.65,21.06 L494.12,21.04 L494.60,21.03 L495.07,21.01 L495.55,20.99 L496.02,20.97 L496.49,20.96 L496.97,20.94 L497.44,20.92 L497.92,20.91 L498.39,20.89 L498.87,20.88 L499.34,20.86 L499.81,20.85 L500.29,20.83 L500.76,20.82 L501.24,20.81 L501.71,20.79 L502.19,20.78 L502.66,20.77 L503.13,20.75 L503.61,20.74 L504.08,20.73 L504.56,20.72 L505.03,20.71 L505.51,20.70 L505.98,20.68 L506.45,20.67 L506.93,20.66 L507.40,20.65 L507.88,20.64 L508.35,20.63 L508.83,20.62 L509.30,20.61 L509.78,20.60 L510.25,20.59 L510.72,20.58 L511.20,20.57 L511.67,20.57 L512.15,20.56 L512.62,20.55 L513.10,20.54 L513.57,20.53 L514.04,20.52 L514.52,20.51 L514.99,20.51 L515.47,20.50 L515.94,20.49 L516.42,20.48 L516.89,20.48 L517.36,20.47 L517.84,20.46 L518.31,20.46 L518.79,20.45 L519.26,20.44 L519.74,20.43 L520.21,20.43 L520.68,20.42 L521.16,20.42 L521.63,20.41 L522.11,20.40 L522.58,20.40 L523.06,20.39 L523.53,20.38 L524.01,20.38 L524.48,20.37 L524.95,20.37 L525.43,20.36 L525.90,20.36 L526.38,20.35 L526.85,20.35 L527.33,20.34 L527.80,20.33" fill="none" stroke="#8a3e28" stroke-width="1.35" stroke-linejoin="round" stroke-linecap="round"/>
<text x="379.30" y="128.70" font-size="8.00" text-anchor="middle" fill="#222" font-weight="normal" stroke="#222" stroke-width="0.38" letter-spacing="0.15">0</text>
<text x="379.30" y="106.94" font-size="8.00" text-anchor="middle" fill="#222" font-weight="normal" stroke="#222" stroke-width="0.38" letter-spacing="0.15">20</text>
<text x="379.30" y="85.18" font-size="8.00" text-anchor="middle" fill="#222" font-weight="normal" stroke="#222" stroke-width="0.38" letter-spacing="0.15">40</text>
<text x="379.30" y="63.42" font-size="8.00" text-anchor="middle" fill="#222" font-weight="normal" stroke="#222" stroke-width="0.38" letter-spacing="0.15">60</text>
<text x="379.30" y="41.66" font-size="8.00" text-anchor="middle" fill="#222" font-weight="normal" stroke="#222" stroke-width="0.38" letter-spacing="0.15">80</text>
<text x="379.30" y="19.90" font-size="8.00" text-anchor="middle" fill="#222" font-weight="normal" stroke="#222" stroke-width="0.38" letter-spacing="0.15">100</text>
<text x="389.30" y="134.20" font-size="8.00" text-anchor="middle" fill="#222" font-weight="normal" stroke="#222" stroke-width="0.38" letter-spacing="0.15">9.5</text>
<text x="434.43" y="134.20" font-size="8.00" text-anchor="middle" fill="#222" font-weight="normal" stroke="#222" stroke-width="0.38" letter-spacing="0.15">10.0</text>
<text x="481.67" y="134.20" font-size="8.00" text-anchor="middle" fill="#222" font-weight="normal" stroke="#222" stroke-width="0.38" letter-spacing="0.15">10.5</text>
<text x="523.50" y="134.20" font-size="8.00" text-anchor="middle" fill="#222" font-weight="normal" stroke="#222" stroke-width="0.38" letter-spacing="0.15">11.0</text>
<text x="459.10" y="142.60" font-size="10.40" text-anchor="middle" fill="#222" font-weight="bold" >Wavelength(μm)</text>
<text x="372.60" y="74.20" font-size="10.40" text-anchor="middle" fill="#222" font-weight="bold" letter-spacing="0.35" transform="rotate(-90 372.6 74.2)">T/R/A(%)</text>
<text x="412.20" y="113.30" font-size="10.50" text-anchor="middle" fill="#3a9ae0" font-weight="normal" stroke="#3a9ae0" stroke-width="0.25" >R</text>
<text x="429.50" y="119.80" font-size="10.50" text-anchor="middle" fill="#d4bc2c" font-weight="normal" stroke="#d4bc2c" stroke-width="0.25" >A</text>
<text x="456.30" y="49.80" font-size="10.50" text-anchor="middle" fill="#8a3e28" font-weight="normal" stroke="#8a3e28" stroke-width="0.25" >T</text>
<text x="356.30" y="15.50" font-size="9.60" text-anchor="start" fill="#222" font-weight="normal" stroke="#222" stroke-width="0.30" letter-spacing="1.0">(c)</text>
<rect x="34.50" y="160.00" width="141.50" height="108.30" fill="none" stroke="#404040" stroke-width="1"/>
<path d="M81.67,268.30v-2.60 M81.67,160.00v2.60 M128.83,268.30v-2.60 M128.83,160.00v2.60 M39.22,268.30v-1.60 M39.22,160.00v1.60 M43.93,268.30v-1.60 M43.93,160.00v1.60 M48.65,268.30v-1.60 M48.65,160.00v1.60 M53.37,268.30v-1.60 M53.37,160.00v1.60 M58.08,268.30v-1.60 M58.08,160.00v1.60 M62.80,268.30v-1.60 M62.80,160.00v1.60 M67.52,268.30v-1.60 M67.52,160.00v1.60 M72.23,268.30v-1.60 M72.23,160.00v1.60 M76.95,268.30v-1.60 M76.95,160.00v1.60 M86.38,268.30v-1.60 M86.38,160.00v1.60 M91.10,268.30v-1.60 M91.10,160.00v1.60 M95.82,268.30v-1.60 M95.82,160.00v1.60 M100.53,268.30v-1.60 M100.53,160.00v1.60 M105.25,268.30v-1.60 M105.25,160.00v1.60 M109.97,268.30v-1.60 M109.97,160.00v1.60 M114.68,268.30v-1.60 M114.68,160.00v1.60 M119.40,268.30v-1.60 M119.40,160.00v1.60 M124.12,268.30v-1.60 M124.12,160.00v1.60 M133.55,268.30v-1.60 M133.55,160.00v1.60 M138.27,268.30v-1.60 M138.27,160.00v1.60 M142.98,268.30v-1.60 M142.98,160.00v1.60 M147.70,268.30v-1.60 M147.70,160.00v1.60 M152.42,268.30v-1.60 M152.42,160.00v1.60 M157.13,268.30v-1.60 M157.13,160.00v1.60 M161.85,268.30v-1.60 M161.85,160.00v1.60 M166.57,268.30v-1.60 M166.57,160.00v1.60 M171.28,268.30v-1.60 M171.28,160.00v1.60 M34.50,246.64h2.60 M176.00,246.64h-2.60 M34.50,224.98h2.60 M176.00,224.98h-2.60 M34.50,203.32h2.60 M176.00,203.32h-2.60 M34.50,181.66h2.60 M176.00,181.66h-2.60 M34.50,257.47h1.60 M176.00,257.47h-1.60 M34.50,235.81h1.60 M176.00,235.81h-1.60 M34.50,214.15h1.60 M176.00,214.15h-1.60 M34.50,192.49h1.60 M176.00,192.49h-1.60 M34.50,170.83h1.60 M176.00,170.83h-1.60 " stroke="#404040" stroke-width="0.9" fill="none"/>
<path d="M34.50,263.00 C38.65,263.00 53.82,263.12 59.40,263.00 C64.98,262.88 65.72,262.63 68.00,262.30 C70.28,261.97 71.68,261.63 73.10,261.00 C74.52,260.37 75.52,259.63 76.50,258.50 C77.48,257.37 78.25,256.03 79.00,254.20 C79.75,252.37 80.35,250.03 81.00,247.50 C81.65,244.97 82.32,241.38 82.90,239.00 C83.48,236.62 84.00,234.48 84.50,233.20 C85.00,231.92 85.43,231.25 85.90,231.30 C86.37,231.35 86.82,232.30 87.30,233.50 C87.78,234.70 88.22,236.58 88.80,238.50 C89.38,240.42 90.15,243.08 90.80,245.00 C91.45,246.92 91.83,248.42 92.70,250.00 C93.57,251.58 94.68,253.28 96.00,254.50 C97.32,255.72 98.30,256.32 100.60,257.30 C102.90,258.28 106.63,259.70 109.80,260.40 C112.97,261.10 114.70,261.20 119.60,261.50 C124.50,261.80 129.80,262.02 139.20,262.20 C148.60,262.38 169.87,262.53 176.00,262.60" fill="none" stroke="#e0c21c" stroke-width="1.35" stroke-linejoin="round" stroke-linecap="round"/>
<path d="M34.50,251.90 C37.02,252.12 44.47,252.48 49.60,253.20 C54.73,253.92 61.05,255.12 65.30,256.20 C69.55,257.28 72.82,258.80 75.10,259.70 C77.38,260.60 78.02,261.13 79.00,261.60 C79.98,262.07 80.45,262.47 81.00,262.50 C81.55,262.53 81.85,262.42 82.30,261.80 C82.75,261.18 83.20,260.18 83.70,258.80 C84.20,257.42 84.77,255.22 85.30,253.50 C85.83,251.78 86.37,249.88 86.90,248.50 C87.43,247.12 87.98,245.92 88.50,245.20 C89.02,244.48 89.42,244.32 90.00,244.20 C90.58,244.08 90.88,244.20 92.00,244.50 C93.12,244.80 95.37,245.62 96.70,246.00 C98.03,246.38 97.82,246.22 100.00,246.80 C102.18,247.38 106.53,248.82 109.80,249.50 C113.07,250.18 114.70,250.47 119.60,250.90 C124.50,251.33 132.67,251.78 139.20,252.10 C145.73,252.42 152.67,252.65 158.80,252.80 C164.93,252.95 173.13,252.97 176.00,253.00" fill="none" stroke="#8a3e28" stroke-width="1.35" stroke-linejoin="round" stroke-linecap="round"/>
<path d="M34.50,181.60 C37.18,181.43 45.52,180.98 50.60,180.60 C55.68,180.22 61.57,179.63 65.00,179.30 C68.43,178.97 69.50,178.62 71.20,178.60 C72.90,178.58 74.10,178.72 75.20,179.20 C76.30,179.68 77.03,180.28 77.80,181.50 C78.57,182.72 79.22,184.67 79.80,186.50 C80.38,188.33 80.78,190.17 81.30,192.50 C81.82,194.83 82.37,197.75 82.90,200.50 C83.43,203.25 84.00,206.70 84.50,209.00 C85.00,211.30 85.50,213.17 85.90,214.30 C86.30,215.43 86.53,215.77 86.90,215.80 C87.27,215.83 87.67,215.47 88.10,214.50 C88.53,213.53 88.97,211.75 89.50,210.00 C90.03,208.25 90.58,206.00 91.30,204.00 C92.02,202.00 92.77,199.78 93.80,198.00 C94.83,196.22 95.97,194.70 97.50,193.30 C99.03,191.90 100.87,190.72 103.00,189.60 C105.13,188.48 107.37,187.42 110.30,186.60 C113.23,185.78 115.45,185.35 120.60,184.70 C125.75,184.05 134.32,183.22 141.20,182.70 C148.08,182.18 156.10,181.87 161.90,181.60 C167.70,181.33 173.65,181.18 176.00,181.10" fill="none" stroke="#4874d8" stroke-width="1.35" stroke-linejoin="round" stroke-linecap="round"/>
<text x="28.40" y="271.60" font-size="8.00" text-anchor="middle" fill="#222" font-weight="normal" stroke="#222" stroke-width="0.38" letter-spacing="0.15">0</text>
<text x="28.40" y="249.94" font-size="8.00" text-anchor="middle" fill="#222" font-weight="normal" stroke="#222" stroke-width="0.38" letter-spacing="0.15">20</text>
<text x="28.40" y="228.28" font-size="8.00" text-anchor="middle" fill="#222" font-weight="normal" stroke="#222" stroke-width="0.38" letter-spacing="0.15">40</text>
<text x="28.40" y="206.62" font-size="8.00" text-anchor="middle" fill="#222" font-weight="normal" stroke="#222" stroke-width="0.38" letter-spacing="0.15">60</text>
<text x="28.40" y="184.96" font-size="8.00" text-anchor="middle" fill="#222" font-weight="normal" stroke="#222" stroke-width="0.38" letter-spacing="0.15">80</text>
<text x="28.40" y="163.30" font-size="8.00" text-anchor="middle" fill="#222" font-weight="normal" stroke="#222" stroke-width="0.38" letter-spacing="0.15">100</text>
<text x="38.10" y="276.70" font-size="8.00" text-anchor="middle" fill="#222" font-weight="normal" stroke="#222" stroke-width="0.38" letter-spacing="0.15">9.5</text>
<text x="84.47" y="276.70" font-size="8.00" text-anchor="middle" fill="#222" font-weight="normal" stroke="#222" stroke-width="0.38" letter-spacing="0.15">10.0</text>
<text x="130.83" y="276.70" font-size="8.00" text-anchor="middle" fill="#222" font-weight="normal" stroke="#222" stroke-width="0.38" letter-spacing="0.15">10.5</text>
<text x="173.20" y="276.70" font-size="8.00" text-anchor="middle" fill="#222" font-weight="normal" stroke="#222" stroke-width="0.38" letter-spacing="0.15">11.0</text>
<text x="108.00" y="285.60" font-size="10.40" text-anchor="middle" fill="#222" font-weight="bold" >Wavelength(μm)</text>
<text x="21.60" y="219.80" font-size="10.40" text-anchor="middle" fill="#222" font-weight="bold" letter-spacing="0.35" transform="rotate(-90 21.6 219.8)">T/R/A(%)</text>
<text x="47.30" y="180.80" font-size="10.50" text-anchor="middle" fill="#4874d8" font-weight="normal" stroke="#4874d8" stroke-width="0.25" >R</text>
<text x="47.20" y="250.40" font-size="10.50" text-anchor="middle" fill="#8a3e28" font-weight="normal" stroke="#8a3e28" stroke-width="0.25" >T</text>
<text x="47.20" y="263.00" font-size="10.50" text-anchor="middle" fill="#e0c21c" font-weight="normal" stroke="#e0c21c" stroke-width="0.25" >A</text>
<text x="5.30" y="158.80" font-size="10.00" text-anchor="start" fill="#222" font-weight="normal" stroke="#222" stroke-width="0.30" letter-spacing="0.9">(d)</text>
<rect x="208.00" y="160.00" width="113.50" height="111.00" fill="#00fa78"/>
<rect x="207.70" y="160.00" width="1.6" height="111.00" fill="#86f0ee"/>
<rect x="211.20" y="161.00" width="5" height="110.00" fill="#58d47e"/>
<rect x="232.00" y="200.00" width="8.00" height="32.00" fill="#80e85c"/>
<rect x="240.00" y="192.00" width="8.00" height="48.00" fill="#b8e44c"/>
<rect x="248.00" y="192.00" width="16.00" height="48.00" fill="#d4dc48"/>
<rect x="210.80" y="160.80" width="110.20" height="110.20" fill="none" stroke="#0e5a2a" stroke-width="1.25" stroke-dasharray="7 2.6"/>
<clipPath id="ce"><ellipse cx="266.60" cy="215.00" rx="22.30" ry="21.60"/></clipPath>
<g clip-path="url(#ce)">
<rect x="244.30" y="193.40" width="2.90" height="43.20" fill="#b80000"/>
<rect x="246.90" y="193.40" width="6.30" height="43.20" fill="#d00000"/>
<rect x="252.90" y="193.40" width="3.80" height="43.20" fill="#e81800"/>
<rect x="256.40" y="193.40" width="2.80" height="43.20" fill="#ff6000"/>
<rect x="258.90" y="193.40" width="2.80" height="43.20" fill="#ffa800"/>
<rect x="261.40" y="193.40" width="2.80" height="43.20" fill="#ffe000"/>
<rect x="263.90" y="193.40" width="2.80" height="43.20" fill="#e0fff0"/>
<rect x="266.40" y="193.40" width="2.80" height="43.20" fill="#a0f8ff"/>
<rect x="268.90" y="193.40" width="3.30" height="43.20" fill="#40c8ff"/>
<rect x="271.90" y="193.40" width="4.30" height="43.20" fill="#0070ff"/>
<rect x="275.90" y="193.40" width="5.30" height="43.20" fill="#0040f0"/>
<rect x="280.90" y="193.40" width="5.30" height="43.20" fill="#0018d0"/>
<rect x="285.90" y="193.40" width="3.80" height="43.20" fill="#0000b0"/>
</g>
<ellipse cx="266.60" cy="215.00" rx="21.70" ry="21.00" fill="none" stroke="#fff" stroke-width="1.3" stroke-dasharray="6.5 3.2"/>
<rect x="327.60" y="263.06" width="17.20" height="7.64" fill="#00008c"/>
<rect x="327.60" y="255.72" width="17.20" height="7.64" fill="#0000d8"/>
<rect x="327.60" y="248.38" width="17.20" height="7.64" fill="#0020ff"/>
<rect x="327.60" y="241.04" width="17.20" height="7.64" fill="#0060ff"/>
<rect x="327.60" y="233.70" width="17.20" height="7.64" fill="#00a8ff"/>
<rect x="327.60" y="226.36" width="17.20" height="7.64" fill="#00e8f0"/>
<rect x="327.60" y="219.02" width="17.20" height="7.64" fill="#00f0b8"/>
<rect x="327.60" y="211.68" width="17.20" height="7.64" fill="#14e870"/>
<rect x="327.60" y="204.34" width="17.20" height="7.64" fill="#90e030"/>
<rect x="327.60" y="197.00" width="17.20" height="7.64" fill="#f0f000"/>
<rect x="327.60" y="189.66" width="17.20" height="7.64" fill="#ffc000"/>
<rect x="327.60" y="182.32" width="17.20" height="7.64" fill="#ff8c00"/>
<rect x="327.60" y="174.98" width="17.20" height="7.64" fill="#ff4800"/>
<rect x="327.60" y="167.64" width="17.20" height="7.64" fill="#f00000"/>
<rect x="327.60" y="160.30" width="17.20" height="7.64" fill="#a80808"/>
<rect x="327.60" y="160.30" width="17.20" height="110.10" fill="none" stroke="#111" stroke-width="1"/>
<text x="348.00" y="174.50" font-size="8.50" text-anchor="start" fill="#222" font-weight="normal" stroke="#222" stroke-width="0.30" >80</text>
<text x="348.00" y="196.90" font-size="8.50" text-anchor="start" fill="#222" font-weight="normal" stroke="#222" stroke-width="0.30" >40</text>
<text x="349.40" y="218.10" font-size="8.50" text-anchor="start" fill="#222" font-weight="normal" stroke="#222" stroke-width="0.30" >0</text>
<text x="346.80" y="239.30" font-size="8.50" text-anchor="start" fill="#222" font-weight="normal" stroke="#222" stroke-width="0.30" >−40</text>
<text x="346.80" y="261.50" font-size="8.50" text-anchor="start" fill="#222" font-weight="normal" stroke="#222" stroke-width="0.30" >−80</text>
<text y="156.60" font-size="10.5" fill="#1a1a1a"><tspan x="253.50">E</tspan><tspan x="261.10" font-size="6.3" dy="1.9">z</tspan><tspan x="266.30" dy="-1.9">/</tspan><tspan x="272.70">|</tspan><tspan x="274.70">E</tspan><tspan x="282.90" font-size="6.3" dy="1.9">0</tspan><tspan x="289.90" dy="-1.9">|</tspan></text>
<text y="155.60" font-size="10.5" fill="#1a1a1a"><tspan x="423.50">E</tspan><tspan x="431.10" font-size="6.3" dy="1.9">z</tspan><tspan x="436.30" dy="-1.9">/</tspan><tspan x="442.70">|</tspan><tspan x="444.70">E</tspan><tspan x="452.90" font-size="6.3" dy="1.9">0</tspan><tspan x="459.90" dy="-1.9">|</tspan></text>
<path d="M206.7,274.5 V258 M206.7,274.5 H223.5" stroke="#111" stroke-width="1.1" fill="none"/>
<path d="M204.6,259 L206.7,253.6 L208.8,259 Z M222.5,272.4 L227.6,274.5 L222.5,276.6 Z" fill="#111"/>
<text x="199.40" y="259.60" font-size="10.20" text-anchor="start" fill="#111" font-weight="normal" stroke="#111" stroke-width="0.30" >y</text>
<text x="227.00" y="278.30" font-size="10.20" text-anchor="start" fill="#111" font-weight="normal" stroke="#111" stroke-width="0.30" >x</text>
<text x="178.80" y="158.60" font-size="9.80" text-anchor="start" fill="#222" font-weight="bold" letter-spacing="1.0">(e)</text>
<rect x="384.60" y="159.60" width="112.90" height="111.20" fill="#00fa78"/>
<rect x="384.30" y="159.60" width="1.6" height="111.20" fill="#86f0ee"/>
<rect x="387.80" y="160.60" width="5" height="110.20" fill="#58d47e"/>
<rect x="416.00" y="208.00" width="8.00" height="14.00" fill="#a0e060"/>
<rect x="424.00" y="192.00" width="16.00" height="10.00" fill="#90f078"/>
<rect x="424.00" y="230.00" width="16.00" height="8.00" fill="#90f078"/>
<rect x="387.00" y="160.20" width="109.80" height="109.20" fill="none" stroke="#0e5a2a" stroke-width="1.25" stroke-dasharray="7 2.6"/>
<rect x="397.80" y="170.40" width="89.30" height="89.60" fill="none" stroke="#0e5a2a" stroke-width="1.25" stroke-dasharray="7 2.6"/>
<clipPath id="cf"><ellipse cx="443.00" cy="214.20" rx="21.20" ry="20.80"/></clipPath>
<g clip-path="url(#cf)">
<rect x="421.80" y="193.40" width="3.50" height="41.60" fill="#d04000"/>
<rect x="425.00" y="193.40" width="5.30" height="41.60" fill="#f07000"/>
<rect x="430.00" y="193.40" width="4.30" height="41.60" fill="#ffa000"/>
<rect x="434.00" y="193.40" width="3.80" height="41.60" fill="#f0e000"/>
<rect x="437.50" y="193.40" width="2.80" height="41.60" fill="#c8f040"/>
<rect x="440.00" y="193.40" width="4.30" height="41.60" fill="#60f8e8"/>
<rect x="444.00" y="193.40" width="3.30" height="41.60" fill="#40e0ff"/>
<rect x="447.00" y="193.40" width="5.30" height="41.60" fill="#30b0ff"/>
<rect x="452.00" y="193.40" width="6.30" height="41.60" fill="#2080f0"/>
<rect x="458.00" y="193.40" width="6.80" height="41.60" fill="#1838d0"/>
</g>
<ellipse cx="443.00" cy="214.20" rx="20.60" ry="20.20" fill="none" stroke="#fff" stroke-width="1.3" stroke-dasharray="6.5 3.2"/>
<rect x="503.50" y="261.61" width="17.10" height="7.59" fill="#00008c"/>
<rect x="503.50" y="254.31" width="17.10" height="7.59" fill="#0000d8"/>
<rect x="503.50" y="247.02" width="17.10" height="7.59" fill="#0020ff"/>
<rect x="503.50" y="239.73" width="17.10" height="7.59" fill="#0060ff"/>
<rect x="503.50" y="232.43" width="17.10" height="7.59" fill="#00a8ff"/>
<rect x="503.50" y="225.14" width="17.10" height="7.59" fill="#00e8f0"/>
<rect x="503.50" y="217.85" width="17.10" height="7.59" fill="#00f0b8"/>
<rect x="503.50" y="210.55" width="17.10" height="7.59" fill="#14e870"/>
<rect x="503.50" y="203.26" width="17.10" height="7.59" fill="#90e030"/>
<rect x="503.50" y="195.97" width="17.10" height="7.59" fill="#f0f000"/>
<rect x="503.50" y="188.67" width="17.10" height="7.59" fill="#ffc000"/>
<rect x="503.50" y="181.38" width="17.10" height="7.59" fill="#ff8c00"/>
<rect x="503.50" y="174.09" width="17.10" height="7.59" fill="#ff4800"/>
<rect x="503.50" y="166.79" width="17.10" height="7.59" fill="#f00000"/>
<rect x="503.50" y="159.50" width="17.10" height="7.59" fill="#a80808"/>
<rect x="503.50" y="159.50" width="17.10" height="109.40" fill="none" stroke="#111" stroke-width="1"/>
<text x="523.50" y="162.50" font-size="8.50" text-anchor="start" fill="#222" font-weight="normal" stroke="#222" stroke-width="0.30" >150</text>
<text x="523.50" y="181.70" font-size="8.50" text-anchor="start" fill="#222" font-weight="normal" stroke="#222" stroke-width="0.30" >100</text>
<text x="526.30" y="200.20" font-size="8.50" text-anchor="start" fill="#222" font-weight="normal" stroke="#222" stroke-width="0.30" >50</text>
<text x="526.30" y="217.80" font-size="8.50" text-anchor="start" fill="#222" font-weight="normal" stroke="#222" stroke-width="0.30" >0</text>
<text x="522.00" y="235.80" font-size="8.50" text-anchor="start" fill="#222" font-weight="normal" stroke="#222" stroke-width="0.30" >−50</text>
<text x="522.00" y="253.30" font-size="8.50" text-anchor="start" fill="#222" font-weight="normal" stroke="#222" stroke-width="0.30" >−100</text>
<text x="522.00" y="270.60" font-size="8.50" text-anchor="start" fill="#222" font-weight="normal" stroke="#222" stroke-width="0.30" >−150</text>
<path d="M382.6,274 V257.5 M382.6,274 H399.4" stroke="#111" stroke-width="1.1" fill="none"/>
<path d="M380.5,258.5 L382.6,253.1 L384.7,258.5 Z M398.4,271.9 L403.5,274 L398.4,276.1 Z" fill="#111"/>
<text x="375.00" y="258.80" font-size="10.20" text-anchor="start" fill="#111" font-weight="normal" stroke="#111" stroke-width="0.30" >y</text>
<text x="403.20" y="277.80" font-size="10.20" text-anchor="start" fill="#111" font-weight="normal" stroke="#111" stroke-width="0.30" >x</text>
<text x="357.30" y="158.50" font-size="9.60" text-anchor="start" fill="#222" font-weight="normal" stroke="#222" stroke-width="0.35" letter-spacing="1.0">(f)</text>
</svg>
</body></html>
